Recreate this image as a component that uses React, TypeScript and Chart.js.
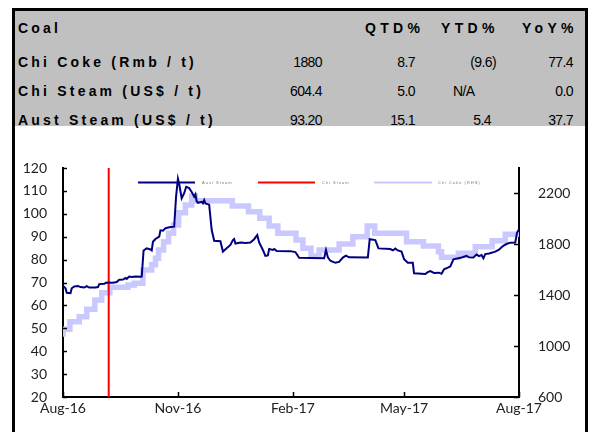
import React, { useEffect, useRef } from "react";
import { Chart, registerables } from "chart.js";

Chart.register(...registerables);

// ---------- data ----------
const xTickDays = [0, 92, 184, 273, 365];
const xTickLabels = ["Aug-16", "Nov-16", "Feb-17", "May-17", "Aug-17"];
const rightTickValues = [600, 1000, 1400, 1800, 2200];

const seriesNames = ["Aust Steam", "Chi Steam", "Chi Coke (RHS)"];

// Aust Steam (US$/t), day index from 1 Aug 2016
const austDays = [0, 2, 3, 6, 7, 9, 12, 14, 17, 19, 21, 26, 28, 29, 33, 35, 40, 43, 45, 48, 50, 51, 53, 55, 58, 62, 63, 64.5, 67, 70, 71, 72, 74, 77, 78, 80, 82, 86, 89, 90.5, 92, 93, 95, 97, 98.6, 101, 103, 105, 106, 107, 108, 111, 112, 113, 114, 117, 119, 121, 126, 128, 131, 134, 136, 137, 138, 142, 146, 150, 153, 155.5, 157, 160, 162, 164, 165, 168, 169, 171, 182, 186, 189, 209, 210.5, 212, 214, 218, 221, 224, 226.5, 229, 244, 245.5, 250, 252.5, 262, 264, 266, 268, 271, 273, 276, 280, 281, 290, 292, 294, 297, 301, 303, 305, 308, 310, 312.5, 319, 323, 325, 328.5, 331, 333, 335, 336.5, 338, 341, 346, 349, 351, 353, 355, 358, 362, 363.4, 365];
const austValues = [68.5, 67.5, 65.5, 65.3, 67.5, 68.3, 68.5, 68.0, 67.8, 68.4, 67.8, 67.8, 68.0, 69.3, 69.5, 70.0, 69.9, 70.2, 71.2, 71.3, 72.0, 71.6, 72.6, 72.4, 72.6, 72.5, 72.6, 84.0, 84.9, 84.4, 84.0, 87.8, 89.0, 90.0, 92.8, 92.6, 93.7, 94.2, 94.4, 107.5, 115.3, 113.0, 106.8, 109.0, 111.8, 111.2, 109.5, 107.5, 108.5, 105.5, 104.8, 105.2, 104.6, 106.0, 104.5, 104.0, 93.0, 88.2, 88.0, 83.5, 85.0, 86.4, 88.5, 89.0, 87.0, 87.5, 87.3, 87.5, 88.9, 90.7, 87.5, 84.2, 81.6, 81.8, 84.6, 84.2, 84.6, 83.8, 83.7, 83.3, 80.8, 80.6, 84.2, 81.0, 79.5, 78.6, 79.0, 80.9, 81.7, 81.0, 80.9, 88.9, 88.5, 84.9, 84.6, 84.0, 84.8, 84.0, 83.5, 80.2, 78.6, 78.6, 74.0, 73.7, 74.5, 75.0, 74.2, 74.3, 73.8, 75.8, 76.5, 77.0, 80.1, 80.9, 81.6, 81.0, 80.9, 82.2, 81.5, 82.0, 80.6, 82.4, 82.7, 83.5, 84.3, 85.4, 86.2, 86.8, 87.4, 87.5, 91.7, 93.2];

// Chi Steam (US$/t) – off-scale, appears as a vertical line
const steamDays = [36.6, 36.6];
const steamValues = [0, 604.4];

// Chi Coke (Rmb/t), right axis, step changes
const cokeDays = [0, 5.5, 13, 19, 25.5, 31, 37.5, 52, 57, 64, 71, 74, 76.5, 80.5, 84.5, 88.5, 92.5, 98, 103, 106, 135.5, 148.5, 157.5, 165, 172, 186.5, 192, 198.5, 205, 221, 232, 243.5, 249.5, 275, 288.5, 300.5, 303, 316.5, 330, 343.5, 354, 364.5, 365];
const cokeValues = [1074, 1132, 1192, 1231, 1289, 1362, 1420, 1462, 1480, 1494, 1598, 1640, 1690, 1755, 1821, 1887, 1952, 2049, 2109, 2180, 2143, 2101, 2057, 2005, 1944, 1887, 1834, 1769, 1708, 1755, 1803, 1860, 1944, 1887, 1821, 1787, 1742, 1698, 1730, 1781, 1829, 1880, 1880];

// table
const tableTitle = "Coal";
const tableHeaders = ["QTD%", "YTD%", "YoY%"];
const rowNames = ["Chi Coke (Rmb / t)", "Chi Steam (US$ / t)", "Aust Steam (US$ / t)"];
const rowPrices = ["1880", "604.4", "93.20"];
const rowQtd = ["8.7", "5.0", "15.1"];
const rowYtd = ["(9.6)", "N/A", "5.4"];
const rowYoy = ["77.4", "0.0", "37.7"];

// ---------- styles ----------
const NAVY = "#000080";
const RED = "#ff0000";
const LAV = "#c9c9ff";
const AXIS_FONT = "Lato";

const innerTicks = {
  id: "innerTicks",
  afterDraw(chart: any) {
    const ctx = chart.ctx;
    const a = chart.chartArea;
    ctx.save();
    ctx.strokeStyle = "#000";
    ctx.lineWidth = 1.5;
    const y = chart.scales.y;
    y.ticks.forEach((t: any) => {
      const p = Math.round(y.getPixelForValue(t.value)) + 0.5;
      ctx.beginPath();
      ctx.moveTo(a.left, p);
      ctx.lineTo(a.left + 4, p);
      ctx.stroke();
    });
    const y1 = chart.scales.y1;
    y1.ticks.forEach((t: any) => {
      const p = Math.round(y1.getPixelForValue(t.value)) + 0.5;
      ctx.beginPath();
      ctx.moveTo(a.right, p);
      ctx.lineTo(a.right - 5, p);
      ctx.stroke();
    });
    const x = chart.scales.x;
    x.ticks.forEach((t: any) => {
      const p = Math.round(x.getPixelForValue(t.value)) + 0.5;
      ctx.beginPath();
      ctx.moveTo(p, a.bottom);
      ctx.lineTo(p, a.bottom - 5);
      ctx.stroke();
    });
    ctx.restore();
  },
};

const inlineLegend = {
  id: "inlineLegend",
  beforeDatasetsDraw(chart: any) {
    const ctx = chart.ctx;
    const y = 52.5;
    const items = [
      { x0: 123, x1: 180, tx: 187, color: NAVY },
      { x0: 243, x1: 300, tx: 307, color: RED },
      { x0: 359, x1: 417, tx: 423, color: LAV },
    ];
    ctx.save();
    items.forEach((it, i) => {
      ctx.strokeStyle = it.color;
      ctx.lineWidth = 2;
      ctx.beginPath();
      ctx.moveTo(it.x0, y);
      ctx.lineTo(it.x1, y);
      ctx.stroke();
      ctx.fillStyle = "#777";
      ctx.font = "4px 'Liberation Sans'";
      (ctx as any).letterSpacing = "1px";
      ctx.textBaseline = "middle";
      ctx.fillText(seriesNames[i], it.tx, y);
    });
    ctx.restore();
  },
};

function ChartBox() {
  const ref = useRef<HTMLCanvasElement | null>(null);
  useEffect(() => {
    if (!ref.current) return;
    const tickFont = { family: AXIS_FONT, size: 14 };
    const chart = new Chart(ref.current, {
      type: "line",
      data: {
        datasets: [
          {
            label: seriesNames[0],
            data: austDays.map((d, i) => ({ x: d, y: austValues[i] })),
            borderColor: NAVY,
            borderWidth: 2,
            pointRadius: 0,
            yAxisID: "y",
          },
          {
            label: seriesNames[1],
            data: steamDays.map((d, i) => ({ x: d, y: steamValues[i] })),
            borderColor: RED,
            borderWidth: 2,
            pointRadius: 0,
            yAxisID: "y",
          },
          {
            label: seriesNames[2],
            data: cokeDays.map((d, i) => ({ x: d, y: cokeValues[i] })),
            borderColor: LAV,
            borderWidth: 5.5,
            pointRadius: 0,
            stepped: "after",
            yAxisID: "y1",
          },
        ],
      },
      options: {
        animation: false,
        responsive: false,
        maintainAspectRatio: false,
        layout: { padding: { top: 38, left: 0, right: 0, bottom: 0 } },
        plugins: { legend: { display: false }, tooltip: { enabled: false } },
        scales: {
          x: {
            type: "linear",
            min: 0,
            max: 365,
            grid: { display: true, drawOnChartArea: false, drawTicks: false },
            border: { display: true, color: "#000", width: 2 },
            afterBuildTicks: (s: any) => {
              s.ticks = xTickDays.map((v) => ({ value: v }));
            },
            afterFit: (s: any) => {
              s.height = 35;
            },
            ticks: {
              autoSkip: false,
              maxRotation: 0,
              padding: 3,
              color: "#222",
              font: tickFont,
              callback: (v: any) => {
                const i = xTickDays.indexOf(Number(v));
                return i >= 0 ? xTickLabels[i] : "";
              },
            },
          },
          y: {
            position: "left",
            min: 20,
            max: 120,
            grid: { display: true, drawOnChartArea: false, drawTicks: false },
            border: { display: true, color: "#000", width: 2 },
            afterFit: (s: any) => {
              s.width = 48;
            },
            ticks: { stepSize: 10, padding: 16, color: "#222", font: tickFont, callback: (v: any) => String(v) },
          },
          y1: {
            position: "right",
            min: 600,
            max: 2400,
            grid: { display: true, drawOnChartArea: false, drawTicks: false },
            border: { display: true, color: "#000", width: 2 },
            afterBuildTicks: (s: any) => {
              s.ticks = rightTickValues.map((v) => ({ value: v }));
            },
            afterFit: (s: any) => {
              s.width = 66;
            },
            ticks: { padding: 19, color: "#222", font: tickFont, callback: (v: any) => String(v) },
          },
        },
      },
      plugins: [inlineLegend, innerTicks],
    } as any);
    return () => chart.destroy();
  }, []);
  return (
    <canvas
      ref={ref}
      width={570}
      height={302}
      style={{ position: "absolute", left: 15, top: 130, width: 570, height: 302 }}
    />
  );
}

const labelStyle: React.CSSProperties = {
  position: "absolute",
  fontFamily: "'Liberation Sans', Arial, sans-serif",
  fontWeight: "bold",
  fontSize: 14,
  letterSpacing: "3.2px",
  color: "#000",
  whiteSpace: "nowrap",
  lineHeight: "16px",
};
const numStyle: React.CSSProperties = {
  position: "absolute",
  fontFamily: "'Liberation Sans', Arial, sans-serif",
  fontSize: 14,
  letterSpacing: "-0.6px",
  color: "#000",
  whiteSpace: "nowrap",
  lineHeight: "16px",
  textAlign: "right",
};

const rowCenters = [28, 62, 91, 120];
const headerLefts = [365, 441, 522];
const colRights = [327, 420, 496, 578];

function Table() {
  const cells: React.ReactNode[] = [];
  cells.push(
    <div key="t" style={{ ...labelStyle, left: 18, top: rowCenters[0] - 8 }}>
      {tableTitle}
    </div>
  );
  tableHeaders.forEach((h, i) => {
    cells.push(
      <div key={"h" + i} style={{ ...labelStyle, letterSpacing: "4.3px", left: headerLefts[i], top: rowCenters[0] - 8 }}>
        {h}
      </div>
    );
  });
  rowNames.forEach((n, r) => {
    const top = rowCenters[r + 1] - 8;
    cells.push(
      <div key={"n" + r} style={{ ...labelStyle, left: 18, top }}>
        {n}
      </div>
    );
    [rowPrices[r], rowQtd[r], rowYtd[r], rowYoy[r]].forEach((v, c) => {
      const isNum = /^[\d.()-]+$/.test(v);
      if (!isNum) {
        cells.push(
          <div key={"v" + r + c} style={{ ...numStyle, left: 453, top, textAlign: "left" }}>
            {v}
          </div>
        );
        return;
      }
      const right = colRights[c] - (v.endsWith(")") ? 0 : 5);
      cells.push(
        <div key={"v" + r + c} style={{ ...numStyle, right: 593 - right, top }}>
          {v}
        </div>
      );
    });
  });
  return <>{cells}</>;
}

export default function App() {
  return (
    <div style={{ position: "fixed", left: 0, top: 0, width: 593, height: 432, background: "#fff", overflow: "hidden" }}>
      <div
        style={{
          position: "absolute",
          left: 12,
          top: 8,
          width: 576,
          height: 440,
          boxSizing: "border-box",
          borderLeft: "3px solid #000",
          borderTop: "3px solid #000",
          borderRight: "3px solid #000",
        }}
      />
      <div style={{ position: "absolute", left: 15, top: 11, width: 570, height: 115, background: "#c0c0c0" }} />
      <Table />
      <ChartBox />
    </div>
  );
}
